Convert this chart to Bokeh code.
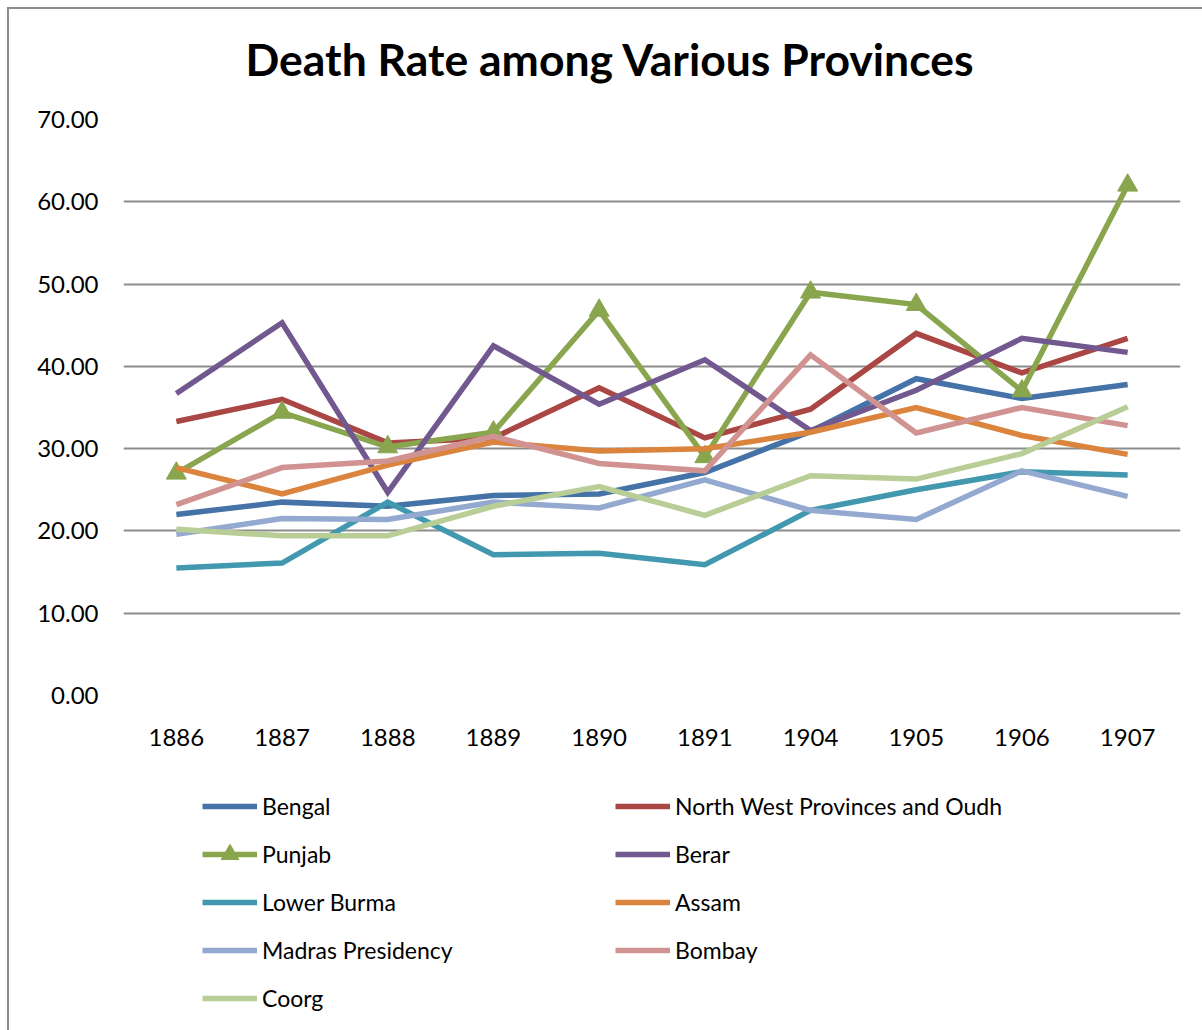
from bokeh.plotting import figure
from bokeh.layouts import column
from bokeh.models import Legend, LegendItem, FixedTicker, NumeralTickFormatter, Range1d
from bokeh.embed import file_html
from bokeh.resources import INLINE

years = ["1886", "1887", "1888", "1889", "1890", "1891", "1904", "1905", "1906", "1907"]

bengal = [22.0, 23.5, 23.0, 24.3, 24.5, 27.1, 32.1, 38.5, 36.1, 37.8]
nwp_oudh = [33.3, 36.0, 30.7, 31.3, 37.4, 31.3, 34.8, 44.0, 39.2, 43.4]
punjab = [27.0, 34.4, 30.2, 32.0, 46.8, 29.0, 49.0, 47.5, 37.0, 62.0]
berar = [36.7, 45.3, 24.7, 42.5, 35.4, 40.8, 32.2, 37.1, 43.4, 41.7]
lower_burma = [15.5, 16.1, 23.5, 17.1, 17.3, 15.9, 22.5, 25.0, 27.2, 26.8]
assam = [27.7, 24.5, 28.0, 30.8, 29.7, 30.0, 32.0, 35.0, 31.6, 29.3]
madras = [19.6, 21.5, 21.4, 23.5, 22.8, 26.2, 22.5, 21.4, 27.3, 24.2]
bombay = [23.2, 27.7, 28.5, 31.5, 28.2, 27.3, 41.4, 31.9, 35.0, 32.8]
coorg = [20.2, 19.4, 19.4, 23.0, 25.4, 21.9, 26.7, 26.3, 29.4, 35.1]

series_names = ["Bengal", "North West Provinces and Oudh", "Punjab", "Berar",
                "Lower Burma", "Assam", "Madras Presidency", "Bombay", "Coorg"]
series_values = [bengal, nwp_oudh, punjab, berar, lower_burma, assam, madras, bombay, coorg]
colors = ["#4572A7", "#AA4643", "#89A54E", "#71588F", "#4198AF",
          "#DB843D", "#93A9CF", "#D19392", "#B9CD96"]

y_ticks = [0, 10, 20, 30, 40, 50, 60, 70]

FONT = "Lato"
BORDER = "2px solid #8c8c8c"

# ---- main chart ----
p = figure(x_range=years, y_range=Range1d(0, 70),
           frame_width=1057, frame_height=576,
           min_border_left=114, min_border_right=22,
           min_border_top=110, min_border_bottom=75,
           output_backend="svg", toolbar_location=None,
           title="Death Rate among Various Provinces")
p.margin = (-10, 0, 0, 0)

p.title.text_font = FONT
p.title.text_font_size = "44.5px"
p.title.text_font_style = "bold"
p.title.text_color = "black"
p.title.align = "left"
p.title.vertical_align = "top"
p.title.offset = 122
p.title.standoff = 65

p.outline_line_color = None
p.background_fill_color = "white"
p.border_fill_alpha = 0

p.xgrid.grid_line_color = None
p.ygrid.grid_line_color = "#8c8c8c"
p.ygrid.grid_line_width = 2
p.yaxis.ticker = FixedTicker(ticks=y_ticks)
p.yaxis.formatter = NumeralTickFormatter(format="0.00")

for ax in (p.xaxis, p.yaxis):
    ax.axis_line_color = None
    ax.major_tick_line_color = None
    ax.minor_tick_line_color = None
    ax.major_tick_out = 0
    ax.major_tick_in = 0
    ax.minor_tick_out = 0
    ax.major_label_text_font = FONT
    ax.major_label_text_font_size = "24px"
    ax.major_label_text_color = "black"
p.yaxis.major_label_standoff = 25
p.xaxis.major_label_standoff = 33

for name, vals, col in zip(series_names, series_values, colors):
    p.line(years, vals, line_color=col, line_width=5.5, line_join="miter")
    if name == "Punjab":
        p.scatter(years, vals, marker="triangle", size=20, fill_color=col, line_color=col)

# ---- legend panel (below the chart) ----
LEG_W, LEG_H = 1193, 262
q = figure(x_range=Range1d(0, LEG_W), y_range=Range1d(0, LEG_H),
           frame_width=LEG_W, frame_height=LEG_H,
           min_border_left=0, min_border_right=0, min_border_top=0, min_border_bottom=0,
           output_backend="svg", toolbar_location=None)
q.margin = (0, 0, 0, 0)
q.axis.visible = False
q.grid.visible = False
q.outline_line_color = None
q.background_fill_color = "white"
q.border_fill_color = "white"

# legend keys: renderers whose only point lies outside the visible range
key_renderers = {}
for name, col in zip(series_names, colors):
    r = q.line([-50, -40], [-50, -50], line_color=col, line_width=5.5)
    rs = [r]
    if name == "Punjab":
        rs.append(q.scatter([-50], [-50], marker="triangle", size=20, fill_color=col, line_color=col))
    key_renderers[name] = rs

col1 = ["Bengal", "Punjab", "Lower Burma", "Madras Presidency", "Coorg"]
col2 = ["North West Provinces and Oudh", "Berar", "Assam", "Bombay"]

def make_legend(names, loc):
    lg = Legend(items=[LegendItem(label=n, renderers=key_renderers[n]) for n in names],
                location=loc, orientation="vertical")
    lg.padding = 0
    lg.margin = 0
    lg.border_line_color = None
    lg.background_fill_alpha = 0
    lg.glyph_width = 55
    lg.glyph_height = 44
    lg.label_height = 22
    lg.spacing = 4
    lg.label_standoff = 5
    lg.label_text_font = FONT
    lg.label_text_font_size = "23px"
    lg.label_text_color = "black"
    return lg

q.add_layout(make_legend(col1, (193, 12)), "center")
q.add_layout(make_legend(col2, (606, 60)), "center")

layout = column(p, q, spacing=0)
layout.margin = (7, 0, 0, 7)
layout.styles = {"border-left": BORDER, "border-top": BORDER}
open("out.html", "w").write(file_html(layout, INLINE))
